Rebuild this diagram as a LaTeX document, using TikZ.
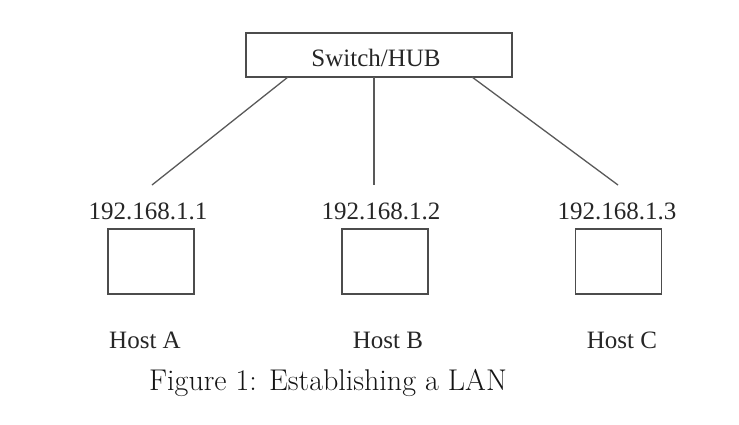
\documentclass[tikz,border=0pt]{standalone}
\usepackage{fontspec}
\newfontfamily\timesfont{Liberation Serif}
\begin{document}
\begin{tikzpicture}[x=1pt,y=-1pt,
  lbl/.style={font=\timesfont\fontsize{25}{30}\selectfont, inner sep=0pt, anchor=base, text=black!85},
  hostbox/.style={draw=black!70, line width=1.4pt, minimum width=86pt, minimum height=65pt, inner sep=0pt},
  wire/.style={draw=black!65, line width=1.3pt}]
\useasboundingbox (0,0) rectangle (739,424);
\node[draw=black!70, line width=1.4pt, minimum width=266pt, minimum height=44pt, inner sep=0pt] (sw) at (379,55) {};
\node[lbl] (swt) at (376,66) {Switch/HUB};
\coordinate (ea) at (152,185);
\coordinate (eb) at (374,185);
\coordinate (ec) at (618,185);
\coordinate (sa) at (288,77);
\coordinate (sb) at (374,77);
\coordinate (sc) at (472,77);
\draw[wire] (sa) -- (ea);
\draw[wire] (sb) -- (eb);
\draw[wire] (sc) -- (ec);
\node[lbl] (ipa) at (148,219) {192.168.1.1};
\node[lbl] (ipb) at (381,219) {192.168.1.2};
\node[lbl] (ipc) at (617,219) {192.168.1.3};
\node[hostbox] (ha) at (151,261.5) {};
\node[hostbox] (hb) at (385,261.5) {};
\node[hostbox] (hc) at (618.5,261.5) {};
\node[lbl] (na) at (145,348) {Host A};
\node[lbl] (nb) at (388,348) {Host B};
\node[lbl] (nc) at (622,348) {Host C};
\node[font=\fontsize{30}{36}\selectfont, inner sep=0pt, anchor=base, text=black!92] (cap) at (328,390) {Figure 1: Establishing a LAN};
\end{tikzpicture}
\end{document}
